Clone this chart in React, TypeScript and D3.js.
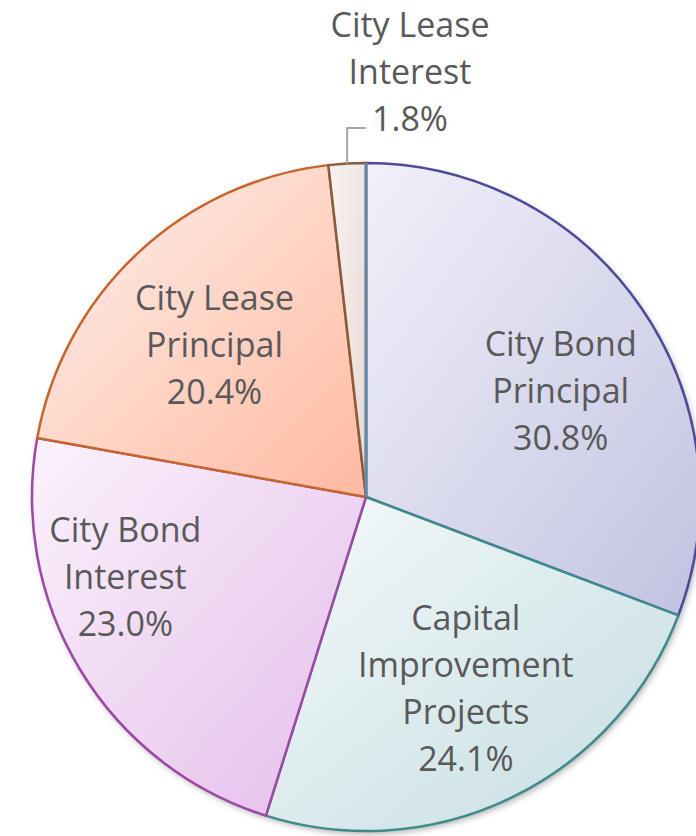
import React from "react";
import * as d3 from "d3";

const categories = [
  "City Bond Principal",
  "Capital Improvement Projects",
  "City Bond Interest",
  "City Lease Principal",
  "City Lease Interest",
];
const shares = [30.8, 24.1, 23.0, 20.4, 1.8];
const labelLines = [
  ["City Bond", "Principal"],
  ["Capital", "Improvement", "Projects"],
  ["City Bond", "Interest"],
  ["City Lease", "Principal"],
  ["City Lease", "Interest"],
];
const fillLight = ["#f1f1fa", "#f5fafa", "#fbf2fb", "#fff1ed", "#f7f3f1"];
const fillDark = ["#c2c2e1", "#c4dce0", "#e4bdeb", "#ffb9a0", "#e8d9d2"];
const strokeColors = ["#4b4b99", "#3f8a8c", "#9c48a6", "#c6652e", "#8b5a3a"];

const W = 696;
const H = 836;
const cx = 366;
const cy = 497;
const R = 334;
const fontSize = 34;
const lineH = 47;
const textColor = "#595959";

// label nudges (layout), relative to centroid at 0.65R
const nudges: [number, number][] = [
  [16, 16],
  [5, -5],
  [-55, -33],
  [-3, 5],
  [0, 0],
];

export default function App() {
  const pie = d3
    .pie<number>()
    .value((d) => d)
    .sort(null)
    .startAngle(0)
    .endAngle(2 * Math.PI);
  const arcs = pie(shares);
  const arc = d3.arc<d3.PieArcDatum<number>>().innerRadius(0).outerRadius(R);
  const labelArc = d3
    .arc<d3.PieArcDatum<number>>()
    .innerRadius(R * 0.65)
    .outerRadius(R * 0.65);
  const fmt = (v: number) => v.toFixed(1) + "%";

  const first = arcs[0];
  const last = arcs[arcs.length - 1];
  const lastMid = (last.startAngle + last.endAngle) / 2;
  const lx0 = Math.sin(lastMid) * R;
  const ly0 = -Math.cos(lastMid) * R;
  const elbowY = -R + (128 - (cy - R));
  const leaderEndX = 0;

  return (
    <svg
      width={W}
      height={H}
      style={{ position: "absolute", left: 0, top: 0 }}
      fontFamily="'Open Sans', sans-serif"
    >
      <defs>
        {arcs.map((a, i) => (
          <linearGradient key={i} id={`g${i}`} x1="0" y1="0" x2="1" y2="1">
            <stop offset="0%" stopColor={fillLight[i]} />
            <stop offset="100%" stopColor={fillDark[i]} />
          </linearGradient>
        ))}
        <filter id="shadow" x="-10%" y="-10%" width="120%" height="120%">
          <feDropShadow dx="2" dy="3" stdDeviation="3" floodColor="#000" floodOpacity="0.3" />
        </filter>
      </defs>
      <rect width={W} height={H} fill="#fff" />
      <g transform={`translate(${cx},${cy})`}>
        <circle r={R} fill="#fff" filter="url(#shadow)" />
        {arcs.map((a, i) => (
          <path
            key={i}
            d={arc(a) || ""}
            fill={`url(#g${i})`}
            stroke={strokeColors[i]}
            strokeWidth={2.5}
            strokeLinejoin="round"
          />
        ))}
        <line
          x1={0}
          y1={0}
          x2={Math.sin(first.startAngle) * R}
          y2={-Math.cos(first.startAngle) * R}
          stroke="#5f8aaa"
          strokeWidth={3}
        />
        {arcs.slice(0, 4).map((a, i) => {
          const [x, y] = labelArc.centroid(a);
          const lines = [...labelLines[i], fmt(shares[i])];
          const px = x + nudges[i][0];
          const py = y + nudges[i][1];
          const top = py - ((lines.length - 1) * lineH) / 2;
          return (
            <text
              key={i}
              textAnchor="middle"
              fill={textColor}
              fontSize={fontSize}
              dominantBaseline="central"
            >
              {lines.map((l, j) => (
                <tspan key={j} x={px} y={top + j * lineH}>
                  {l}
                </tspan>
              ))}
            </text>
          );
        })}
        <polyline
          points={`${lx0},${ly0} ${lx0},${elbowY} ${leaderEndX},${elbowY}`}
          fill="none"
          stroke="#a6a6a6"
          strokeWidth={2}
        />
        <text
          textAnchor="middle"
          fill={textColor}
          fontSize={fontSize}
          dominantBaseline="central"
        >
          {[...labelLines[4], fmt(shares[4])].map((l, j) => (
            <tspan key={j} x={410 - cx} y={24 - cy + j * lineH}>
              {l}
            </tspan>
          ))}
        </text>
      </g>
    </svg>
  );
}
